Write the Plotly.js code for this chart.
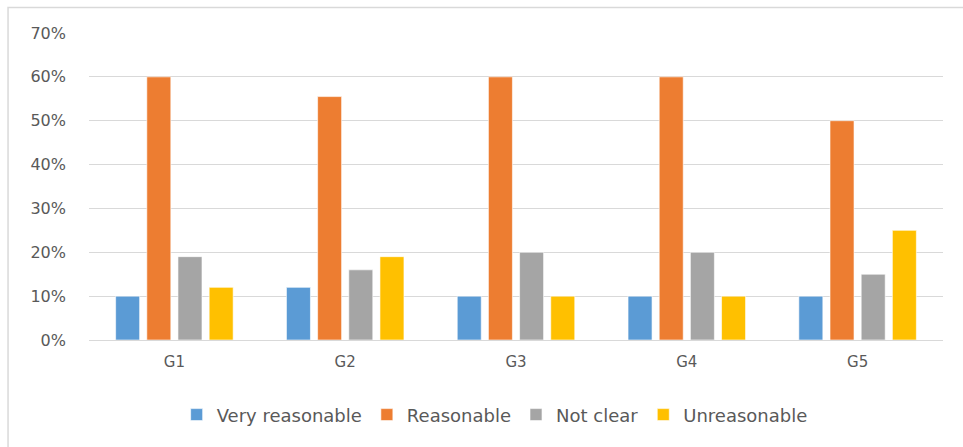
<!DOCTYPE html>
<html>
<head>
<meta charset="utf-8">
<script src="https://cdn.plot.ly/plotly-3.0.1.min.js"></script>
<style>
html,body{margin:0;padding:0;background:#fff;}
#chart{width:963px;height:447px;}
</style>
</head>
<body>
<div id="chart"></div>
<script>
const categories = ["G1", "G2", "G3", "G4", "G5"];
const seriesNames = ["Very reasonable", "Reasonable", "Not clear", "Unreasonable"];
const veryReasonable = [0.10, 0.12, 0.10, 0.10, 0.10];
const reasonable = [0.60, 0.555, 0.60, 0.60, 0.50];
const notClear = [0.19, 0.16, 0.20, 0.20, 0.15];
const unreasonable = [0.12, 0.19, 0.10, 0.10, 0.25];
const colors = ["#5B9BD5", "#ED7D31", "#A5A5A5", "#FFC000"];
const yTickVals = [0, 0.1, 0.2, 0.3, 0.4, 0.5, 0.6, 0.7];
const yTickText = ["0%", "10%", "20%", "30%", "40%", "50%", "60%", "70%"];

const values = [veryReasonable, reasonable, notClear, unreasonable];
const traces = values.map((v, i) => ({
  type: "bar",
  name: seriesNames[i],
  x: categories,
  y: v,
  marker: {color: colors[i], line: {color: "rgba(255,255,255,0.6)", width: 1}},
  hoverinfo: "x+y+name"
}));

const layout = {
  width: 963,
  height: 447,
  margin: {l: 89, r: 20, t: 32.5, b: 107},
  paper_bgcolor: "#ffffff",
  plot_bgcolor: "#ffffff",
  barmode: "group",
  bargap: 0.27,
  bargroupgap: 0.23,
  font: {family: "DejaVu Sans, sans-serif", color: "#595959", size: 15},
  showlegend: true,
  legend: {
    orientation: "h",
    x: 0.475, xanchor: "center",
    y: -0.244, yanchor: "middle",
    font: {size: 18, color: "#595959"},
    traceorder: "normal",
    itemwidth: 30
  },
  xaxis: {
    type: "category",
    showgrid: false,
    showline: true,
    linecolor: "#d9d9d9",
    linewidth: 1,
    ticks: "",
    tickfont: {size: 15, color: "#595959"},
    ticklabelstandoff: 8
  },
  yaxis: {
    range: [0, 0.7],
    tickvals: yTickVals,
    ticktext: yTickText,
    showgrid: true,
    gridcolor: "#d9d9d9",
    gridwidth: 1,
    zeroline: false,
    showline: false,
    ticks: "",
    tickfont: {size: 16, color: "#595959"},
    ticklabelstandoff: 22
  },
  shapes: [{
    type: "rect",
    xref: "paper", yref: "paper",
    x0: -0.0948, x1: 1.06,
    y0: -0.4, y1: 1.083,
    line: {color: "#d9d9d9", width: 1.5},
    fillcolor: "rgba(0,0,0,0)",
    layer: "below"
  }]
};

Plotly.newPlot("chart", traces, layout, {displayModeBar: false, staticPlot: true});
</script>
</body>
</html>
